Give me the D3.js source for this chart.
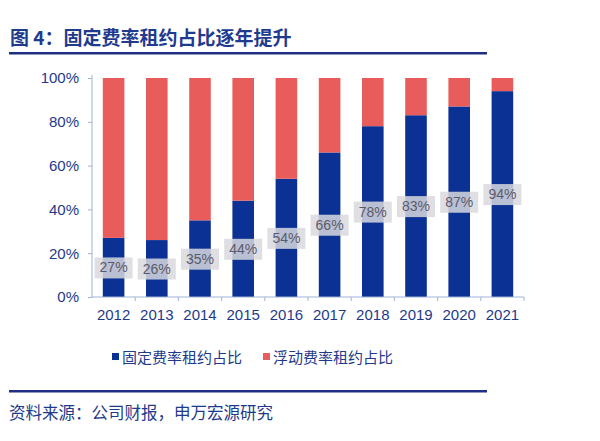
<!DOCTYPE html>
<html><head><meta charset="utf-8">
<script src="https://cdn.jsdelivr.net/npm/d3@7"></script>
<style>body{margin:0;background:#fff;}svg{display:block;font-family:"Noto Sans CJK SC","Liberation Sans",Arial,sans-serif;}</style>
</head><body><svg id="c" width="600" height="441"></svg>
<script>
const years = ["2012","2013","2014","2015","2016","2017","2018","2019","2020","2021"];
const fixedShare = [27,26,35,44,54,66,78,83,87,94];
const floatShare = fixedShare.map(v => 100 - v);
const yTicks = [0,20,40,60,80,100];
const seriesNames = ["固定费率租约占比","浮动费率租约占比"];
const colors = ["#0b3194","#e85d5b"];
const title = "图 4：固定费率租约占比逐年提升";
const source = "资料来源：公司财报，申万宏源研究";

const svg = d3.select("#c");
const navy = "#1e3a8a";
svg.append("text").attr("x",10).attr("y",45).attr("font-size",19).attr("font-weight","bold").attr("fill","#1f3b8f").text(title);
svg.append("rect").attr("x",9).attr("y",52).attr("width",478).attr("height",2.5).attr("fill","#1f2f86");

const x = d3.scaleBand().domain(years).range([92,524]).paddingInner(0.5).paddingOuter(0.25);
const y = d3.scaleLinear().domain([0,100]).range([297,78]);

const stackData = years.map((yr,i)=>({year:yr, fixed:fixedShare[i], float:floatShare[i]}));
const stack = d3.stack().keys(["fixed","float"])(stackData);
const g = svg.append("g");
stack.forEach((s,k)=>{
  g.selectAll(null).data(s).enter().append("rect")
   .attr("x",d=>x(d.data.year)).attr("width",x.bandwidth())
   .attr("y",d=>y(d[1])).attr("height",d=>y(d[0])-y(d[1]))
   .attr("fill",colors[k]);
});

// axes
const axisColor = "#9fb3d6";
const yAxis = svg.append("g").attr("transform","translate(92,0)")
  .call(d3.axisLeft(y).tickValues(yTicks).tickFormat(d=>d+"%").tickSize(4).tickSizeOuter(0));
yAxis.select(".domain").attr("stroke",axisColor).attr("d","M0,75V297");
yAxis.selectAll("line").attr("stroke",axisColor);
yAxis.selectAll("text").attr("font-size",15).attr("fill",navy).attr("x",-13).attr("font-family","Liberation Sans, Arial, sans-serif");

const xAxis = svg.append("g").attr("transform","translate(0,297)")
  .call(d3.axisBottom(x).tickSize(0).tickSizeOuter(0));
xAxis.select(".domain").attr("stroke",axisColor).attr("d","M92,0H524");
xAxis.selectAll("text").attr("font-size",15).attr("fill",navy).attr("dy","1.35em").attr("font-family","Liberation Sans, Arial, sans-serif");
// boundary ticks
const bounds = d3.range(1,years.length+1).map(i=>92 + (524-92)*i/years.length);
xAxis.selectAll(null).data(bounds).enter().append("line")
  .attr("x1",d=>d).attr("x2",d=>d).attr("y1",0).attr("y2",4).attr("stroke",axisColor);

// data labels
const lab = svg.append("g");
stackData.forEach(d=>{
  const cx = x(d.year)+x.bandwidth()/2;
  const cy = y(d.fixed/2);
  lab.append("rect").attr("x",cx-19).attr("y",cy-10).attr("width",38).attr("height",21)
    .attr("fill","#d9d9de").attr("opacity",0.85);
  lab.append("text").attr("x",cx).attr("y",cy+5).attr("text-anchor","middle")
    .attr("font-size",14).attr("fill","#5a5a6a").attr("font-family","Liberation Sans, Arial, sans-serif").text(d.fixed+"%");
});

// legend
const leg = svg.append("g");
const legX = [112,263];
seriesNames.forEach((n,i)=>{
  leg.append("rect").attr("x",legX[i]).attr("y",353).attr("width",7).attr("height",7).attr("fill",colors[i]);
  leg.append("text").attr("x",legX[i]+10).attr("y",363).attr("font-size",15).attr("fill",navy).text(n);
});

svg.append("rect").attr("x",9).attr("y",390).attr("width",478).attr("height",2.5).attr("fill","#1f2f86");
svg.append("text").attr("x",9).attr("y",419).attr("font-size",16.5).attr("fill",navy).text(source);
</script></body></html>
